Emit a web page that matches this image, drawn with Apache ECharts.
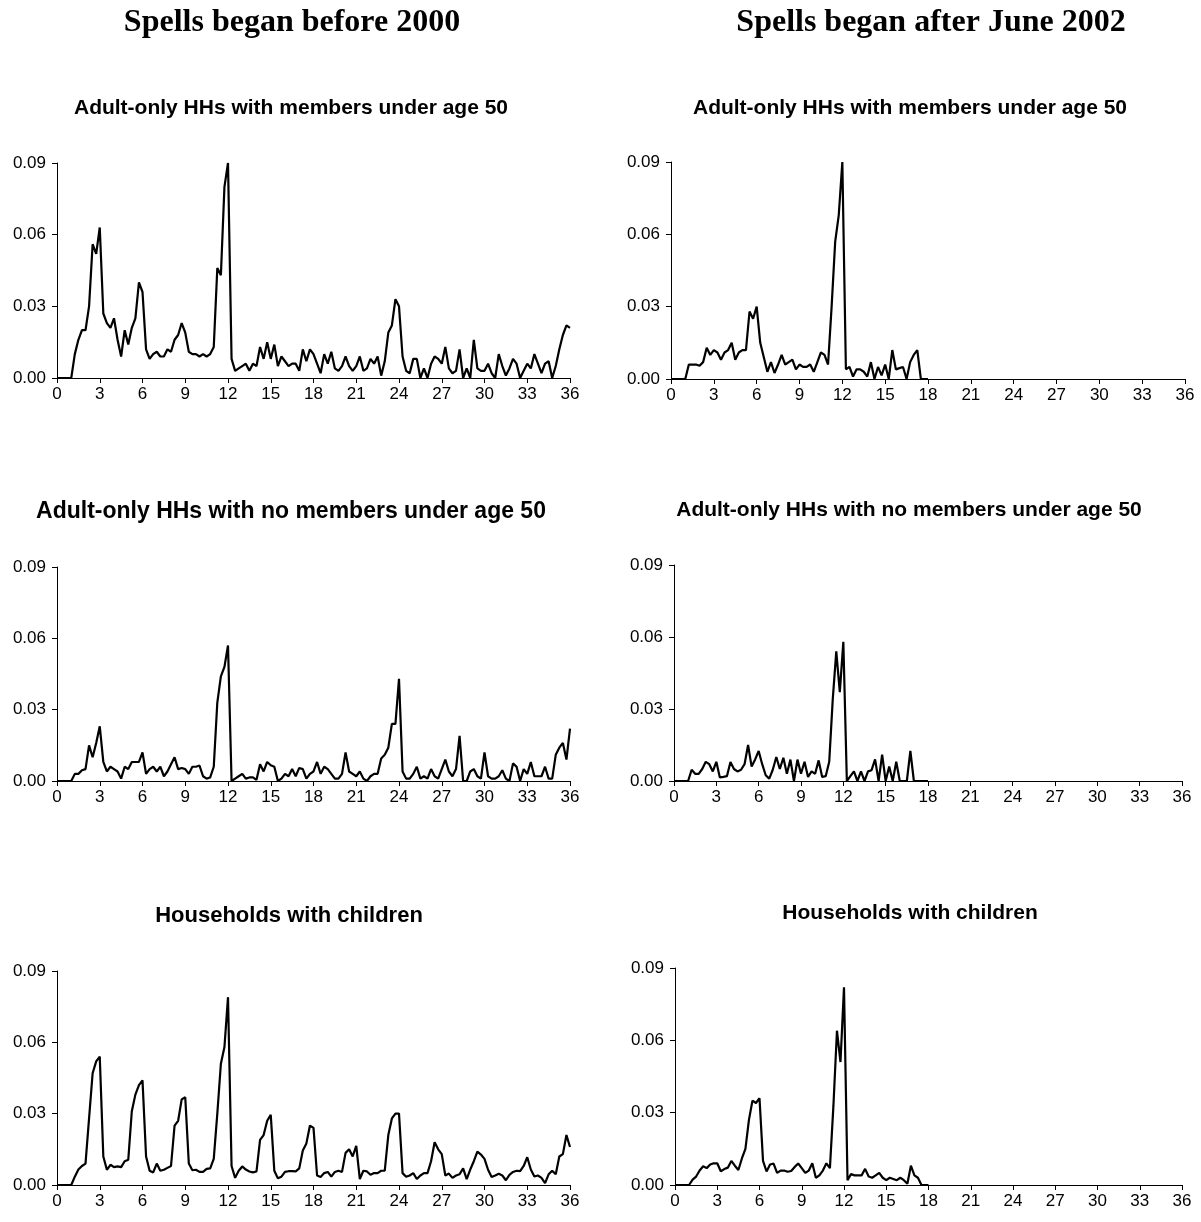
<!DOCTYPE html>
<html>
<head>
<meta charset="utf-8">
<script src="https://cdn.jsdelivr.net/npm/echarts@6/dist/echarts.min.js"></script>
<style>
  html, body { margin: 0; padding: 0; background: #fff; }
  #chart { width: 1201px; height: 1222px; }
</style>
</head>
<body>
<div id="chart"></div>
<script>
// Months since spell start, sampled every quarter month (0 .. 36)
const months = Array.from({ length: 145 }, (_, i) => i / 4);
const xTicks = [0, 3, 6, 9, 12, 15, 18, 21, 24, 27, 30, 33, 36];
const yTicks = [0, 0.03, 0.06, 0.09];

const columnTitles = ['Spells began before 2000', 'Spells began after June 2002'];
const rowTitles = [
  'Adult-only HHs with members under age 50',
  'Adult-only HHs with no members under age 50',
  'Households with children'
];

// Spells began before 2000 — adult-only HHs with members under 50
const earlyUnder50 = [
  0, 0, 0, 0, 0, 0.010, 0.016, 0.020, 0.020, 0.030, 0.056, 0.052,
  0.063, 0.027, 0.023, 0.021, 0.025, 0.016, 0.009, 0.020, 0.014, 0.021, 0.025, 0.040,
  0.036, 0.012, 0.008, 0.010, 0.011, 0.009, 0.009, 0.012, 0.011, 0.016, 0.018, 0.023,
  0.019, 0.011, 0.010, 0.010, 0.009, 0.010, 0.009, 0.010, 0.013, 0.046, 0.043, 0.080,
  0.090, 0.008, 0.003, 0.004, 0.005, 0.006, 0.003, 0.006, 0.005, 0.013, 0.008, 0.015,
  0.008, 0.014, 0.005, 0.009, 0.007, 0.005, 0.006, 0.006, 0.003, 0.012, 0.007, 0.012,
  0.010, 0.006, 0.002, 0.010, 0.006, 0.011, 0.004, 0.003, 0.005, 0.009, 0.005, 0.003,
  0.005, 0.009, 0.003, 0.004, 0.008, 0.006, 0.009, 0.001, 0.007, 0.019, 0.022, 0.033,
  0.030, 0.009, 0.003, 0.002, 0.008, 0.008, 0.000, 0.004, 0.000, 0.006, 0.009, 0.008,
  0.006, 0.013, 0.004, 0.002, 0.003, 0.012, 0.000, 0.004, 0.000, 0.016, 0.004, 0.003,
  0.003, 0.006, 0.002, 0.000, 0.010, 0.005, 0.001, 0.004, 0.008, 0.006, 0.000, 0.003,
  0.006, 0.004, 0.010, 0.006, 0.002, 0.006, 0.007, 0.000, 0.005, 0.012, 0.018, 0.022,
  0.021
];

// Spells began after June 2002 — adult-only HHs with members under 50
const lateUnder50 = [
  0, 0, 0, 0, 0, 0.006, 0.006, 0.006, 0.0055, 0.007, 0.013, 0.010,
  0.012, 0.011, 0.008, 0.011, 0.012, 0.015, 0.008, 0.011, 0.012, 0.012, 0.028, 0.025,
  0.030, 0.015, 0.009, 0.003, 0.007, 0.0025, 0.006, 0.010, 0.006, 0.007, 0.008, 0.004,
  0.006, 0.005, 0.005, 0.006, 0.003, 0.007, 0.011, 0.010, 0.006, 0.030, 0.057, 0.068,
  0.090, 0.004, 0.005, 0.001, 0.004, 0.004, 0.003, 0.001, 0.007, 0.000, 0.005, 0.0015,
  0.006, 0.000, 0.012, 0.004, 0.0045, 0.005, 0.000, 0.007, 0.010, 0.012, 0.000, 0.000,
  0.000
];

// Spells began before 2000 — adult-only HHs with no members under 50
const earlyOver50 = [
  0, 0, 0, 0, 0, 0.003, 0.003, 0.0045, 0.005, 0.015, 0.010, 0.016,
  0.023, 0.008, 0.004, 0.006, 0.005, 0.004, 0.001, 0.006, 0.005, 0.008, 0.008, 0.008,
  0.012, 0.003, 0.005, 0.006, 0.004, 0.006, 0.002, 0.004, 0.007, 0.010, 0.005, 0.0055,
  0.005, 0.003, 0.006, 0.006, 0.0065, 0.002, 0.001, 0.0015, 0.006, 0.033, 0.044, 0.048,
  0.057, 0.000, 0.001, 0.002, 0.003, 0.001, 0.0015, 0.0015, 0.0005, 0.007, 0.004, 0.008,
  0.0066, 0.006, 0.000, 0.001, 0.003, 0.002, 0.005, 0.002, 0.0055, 0.005, 0.001, 0.003,
  0.004, 0.008, 0.003, 0.006, 0.005, 0.003, 0.001, 0.001, 0.003, 0.012, 0.004, 0.003,
  0.002, 0.004, 0.001, 0.000, 0.002, 0.003, 0.003, 0.0095, 0.011, 0.014, 0.024, 0.024,
  0.043, 0.004, 0.001, 0.001, 0.003, 0.006, 0.001, 0.002, 0.001, 0.005, 0.002, 0.001,
  0.005, 0.009, 0.004, 0.002, 0.005, 0.019, 0.000, 0.000, 0.004, 0.005, 0.002, 0.001,
  0.012, 0.002, 0.001, 0.001, 0.002, 0.0045, 0.001, 0.000, 0.0074, 0.006, 0.000, 0.005,
  0.003, 0.008, 0.002, 0.002, 0.002, 0.006, 0.001, 0.001, 0.011, 0.014, 0.016, 0.009,
  0.022
];

// Spells began after June 2002 — adult-only HHs with no members under 50
const lateOver50 = [
  0, 0, 0, 0, 0, 0.0047, 0.003, 0.003, 0.005, 0.008, 0.007, 0.004,
  0.008, 0.0015, 0.0017, 0.002, 0.0079, 0.005, 0.004, 0.0047, 0.007, 0.015, 0.006, 0.009,
  0.0125, 0.007, 0.0024, 0.001, 0.0047, 0.010, 0.005, 0.0097, 0.003, 0.0089, 0.000, 0.0089,
  0.003, 0.008, 0.0017, 0.004, 0.003, 0.0086, 0.0017, 0.002, 0.008, 0.034, 0.054, 0.037,
  0.058, 0.000, 0.002, 0.004, 0.000, 0.004, 0.000, 0.004, 0.0045, 0.009, 0.000, 0.011,
  0.000, 0.006, 0.000, 0.008, 0.000, 0.000, 0.000, 0.0125, 0.000, 0.000, 0.000, 0.000,
  0.000
];

// Spells began before 2000 — households with children
const earlyChildren = [
  0, 0, 0, 0, 0, 0.0035, 0.0065, 0.008, 0.009, 0.028, 0.047, 0.052,
  0.054, 0.012, 0.0064, 0.0085, 0.0075, 0.0078, 0.0075, 0.010, 0.0106, 0.031, 0.038, 0.042,
  0.044, 0.012, 0.006, 0.0053, 0.009, 0.006, 0.0064, 0.0072, 0.008, 0.025, 0.027, 0.036,
  0.0369, 0.009, 0.0062, 0.0064, 0.0055, 0.0055, 0.0068, 0.007, 0.011, 0.030, 0.051, 0.058,
  0.079, 0.008, 0.003, 0.006, 0.0078, 0.0065, 0.0057, 0.0053, 0.0057, 0.019, 0.021, 0.027,
  0.0295, 0.006, 0.0028, 0.0035, 0.0055, 0.0058, 0.0058, 0.0057, 0.007, 0.0145, 0.0175, 0.025,
  0.024, 0.004, 0.0034, 0.005, 0.0055, 0.0035, 0.0055, 0.006, 0.0055, 0.0135, 0.015, 0.012,
  0.0165, 0.0025, 0.006, 0.0057, 0.0043, 0.005, 0.005, 0.006, 0.006, 0.021, 0.028, 0.030,
  0.030, 0.005, 0.0035, 0.004, 0.005, 0.0025, 0.004, 0.005, 0.005, 0.010, 0.018, 0.015,
  0.013, 0.004, 0.0048, 0.003, 0.004, 0.0045, 0.007, 0.0025, 0.0065, 0.010, 0.014, 0.0128,
  0.011, 0.0064, 0.0034, 0.004, 0.0047, 0.004, 0.002, 0.0043, 0.0055, 0.006, 0.0058, 0.008,
  0.0117, 0.0065, 0.0036, 0.004, 0.003, 0.0008, 0.0045, 0.006, 0.0045, 0.012, 0.013, 0.021,
  0.016
];

// Spells began after June 2002 — households with children
const lateChildren = [
  0, 0, 0, 0, 0, 0.0022, 0.0035, 0.006, 0.0078, 0.007, 0.0085, 0.009,
  0.009, 0.0057, 0.0066, 0.0072, 0.010, 0.008, 0.0062, 0.011, 0.015, 0.027, 0.035, 0.034,
  0.036, 0.010, 0.0056, 0.0085, 0.0089, 0.005, 0.006, 0.006, 0.0055, 0.0058, 0.0075, 0.0089,
  0.007, 0.005, 0.006, 0.009, 0.003, 0.004, 0.006, 0.009, 0.007, 0.033, 0.064, 0.051,
  0.082, 0.002, 0.0045, 0.004, 0.004, 0.004, 0.0067, 0.0035, 0.003, 0.004, 0.005, 0.003,
  0.002, 0.003, 0.0025, 0.002, 0.003, 0.002, 0.0005, 0.008, 0.004, 0.003, 0.000, 0.000,
  0.000
];

const panelSeries = [
  earlyUnder50, lateUnder50,
  earlyOver50, lateOver50,
  earlyChildren, lateChildren
];

// Plot rectangles (left, top, width, height) for the 3 x 2 grid of panels
const panelBoxes = [
  [57, 163, 513, 215], [671, 162, 514, 217],
  [57, 567, 513, 214], [674, 565, 508, 216],
  [57, 971, 513, 214], [675, 968, 507, 217]
];

const BLACK = '#000';
const LABEL_FONT = '"Liberation Sans", Arial, sans-serif';

const grids = [], xAxes = [], yAxes = [], series = [];
panelBoxes.forEach((b, i) => {
  grids.push({ left: b[0], top: b[1], width: b[2], height: b[3], containLabel: false });
  xAxes.push({
    type: 'value', gridIndex: i, min: 0, max: 36, interval: 3,
    axisLine: { show: true, onZero: false, lineStyle: { color: BLACK, width: 1 } },
    axisTick: { show: true, length: 5, lineStyle: { color: BLACK } },
    axisLabel: { color: BLACK, fontSize: 17, fontFamily: LABEL_FONT, margin: 8 },
    splitLine: { show: false }
  });
  yAxes.push({
    type: 'value', gridIndex: i, min: 0, max: 0.09, interval: 0.03,
    axisLine: { show: true, lineStyle: { color: BLACK, width: 1 } },
    axisTick: { show: true, length: 5, lineStyle: { color: BLACK } },
    axisLabel: {
      color: BLACK, fontSize: 17, fontFamily: LABEL_FONT, margin: 11,
      formatter: v => v.toFixed(2)
    },
    splitLine: { show: false }
  });
  const vals = panelSeries[i];
  series.push({
    type: 'line', xAxisIndex: i, yAxisIndex: i,
    data: vals.map((v, k) => [months[k], v]),
    showSymbol: false, symbol: 'none', smooth: false,
    lineStyle: { color: BLACK, width: 2.2 },
    animation: false, silent: true
  });
});

// Column headings and panel subtitles
const graphics = [];
const colCenters = [292, 931];
columnTitles.forEach((t, c) => {
  graphics.push({
    type: 'text', x: colCenters[c], y: 23,
    style: {
      text: t, fill: BLACK, textAlign: 'center', textVerticalAlign: 'middle',
      font: 'bold 32px "Liberation Serif", "Times New Roman", serif'
    }
  });
});
const subCenters = [[291, 108], [910, 108], [291, 512], [909, 510], [289, 916], [910, 913]];
const subSizes = [21, 21, 23, 21, 22, 21];
panelBoxes.forEach((b, i) => {
  graphics.push({
    type: 'text', x: subCenters[i][0], y: subCenters[i][1],
    style: {
      text: rowTitles[Math.floor(i / 2)], fill: BLACK,
      textAlign: 'center', textVerticalAlign: 'middle',
      font: 'bold ' + subSizes[i] + 'px "Liberation Sans", Arial, sans-serif'
    }
  });
});

const chart = echarts.init(document.getElementById('chart'), null, { renderer: 'canvas' });
chart.setOption({
  animation: false,
  backgroundColor: '#fff',
  grid: grids,
  xAxis: xAxes,
  yAxis: yAxes,
  series: series,
  graphic: graphics
});
</script>
</body>
</html>
